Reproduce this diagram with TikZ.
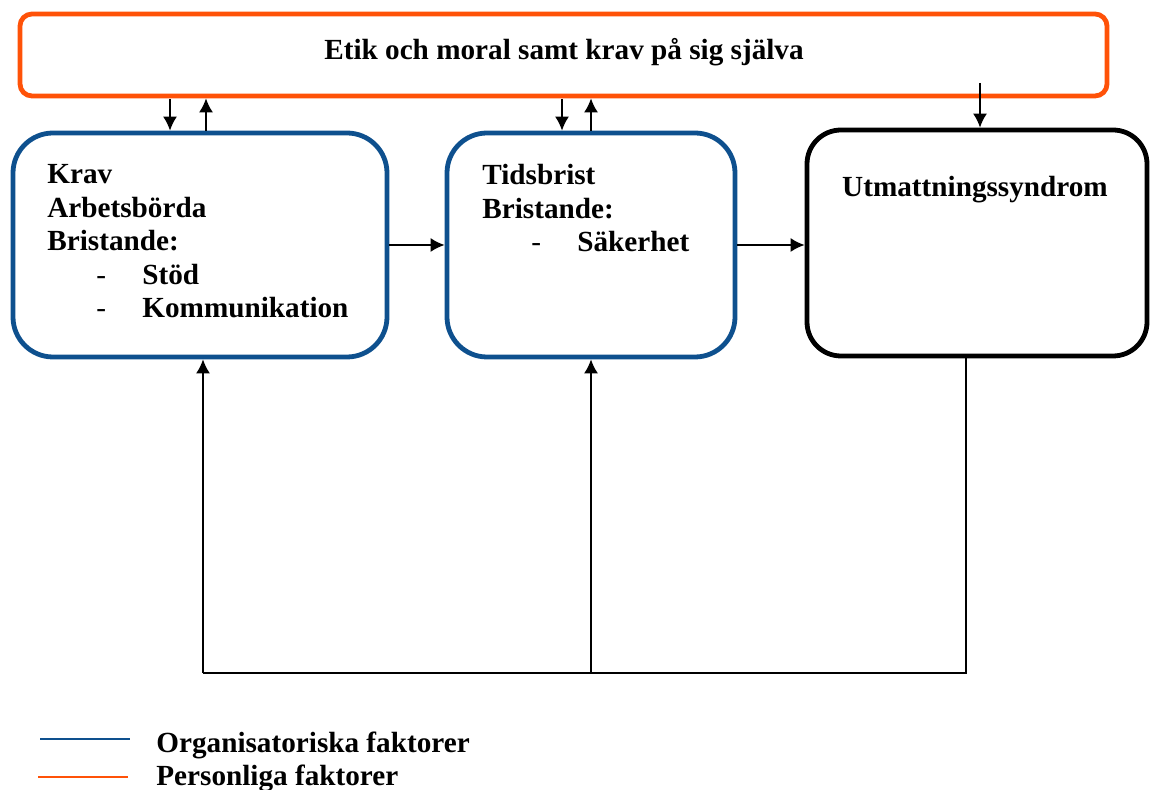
\documentclass[tikz,border=0pt]{standalone}
\usepackage{fontspec}
\setmainfont{Liberation Serif}
\usetikzlibrary{arrows.meta}
\definecolor{orgblue}{RGB}{14,80,142}
\definecolor{persorange}{RGB}{255,82,8}
\newcommand{\strecksteg}[1]{\hspace*{24.5pt}\makebox[23pt][l]{\mdseries -}#1}
\begin{document}
\begin{tikzpicture}[x=0.5pt,y=-0.5pt]
\tikzstyle{txt} = [font=\fontsize{14.6}{16.75}\selectfont\bfseries,inner sep=0pt]
\tikzstyle{orgbox} = [draw=orgblue,line width=2.4pt,rounded corners=20pt,inner sep=0pt]
\tikzstyle{persbox} = [draw=persorange,line width=2.4pt,rounded corners=6pt,inner sep=0pt]
\tikzstyle{utmbox} = [draw=black,line width=2.4pt,rounded corners=17pt,inner sep=0pt]
\tikzstyle{pil} = [-{Latex[length=7pt,width=7pt]},line width=0.8pt]
\useasboundingbox (0,0) rectangle (1151,790);
  %boxes
  \node[persbox,minimum width=543.5pt,minimum height=41pt] (etik) at (563.5,55) {};
  \node[orgbox,minimum width=187pt,minimum height=112pt] (krav) at (200,245) {};
  \node[orgbox,minimum width=144pt,minimum height=112pt] (tid) at (591,245) {};
  \node[utmbox,minimum width=170pt,minimum height=113pt] (utm) at (977,243) {};
  %texts
  \node[txt,anchor=base] (etiktxt) at (564,60) {Etik och moral samt krav på sig själva};
  \node[txt,anchor=north west,align=left] (kravtxt) at (47,164)
    {Krav\\Arbetsbörda\\Bristande:\\\strecksteg{Stöd}\\\strecksteg{Kommunikation}};
  \node[txt,anchor=north west,align=left] (tidtxt) at (482,164)
    {Tidsbrist\\Bristande:\\\strecksteg{Säkerhet}};
  \node[txt,anchor=base] (utmtxt) at (975,197) {Utmattningssyndrom};
    %arrows to and from the top box
    \coordinate (ned1) at (170,99);
    \coordinate (upp1) at (206,0);
    \coordinate (ned2) at (562,99);
    \coordinate (upp2) at (591,0);
    \coordinate (ned3) at (980,83);
    \draw[pil] (ned1) -- (ned1 |- krav.north);
    \draw[pil] (krav.north -| upp1) -- (etik.south -| upp1);
    \draw[pil] (ned2) -- (ned2 |- tid.north);
    \draw[pil] (tid.north -| upp2) -- (etik.south -| upp2);
    \draw[pil] (ned3) -- (ned3 |- utm.north);
    %arrows between the boxes
    \draw[pil] (krav.east) -- (tid.west);
    \draw[pil] (tid.east) -- (tid.east -| utm.west);
    %feedback
    \coordinate (ret) at (966,673);
    \coordinate (ret1) at (203,673);
    \coordinate (ret2) at (591,673);
    \draw[line width=0.8pt] (utm.south -| ret) -- (ret) -- (ret1);
    \draw[pil] (ret1) -- (ret1 |- krav.south);
    \draw[pil] (ret2) -- (ret2 |- tid.south);
  %legend
  \draw[orgblue,line width=1.3pt] (40,739) -- (130,739);
  \draw[persorange,line width=1.3pt] (38,777) -- (128,777);
  \node[txt,anchor=base west] (orgtxt) at (156,752) {Organisatoriska faktorer};
  \node[txt,anchor=base west] (perstxt) at (156,785) {Personliga faktorer};
\end{tikzpicture}
\end{document}
